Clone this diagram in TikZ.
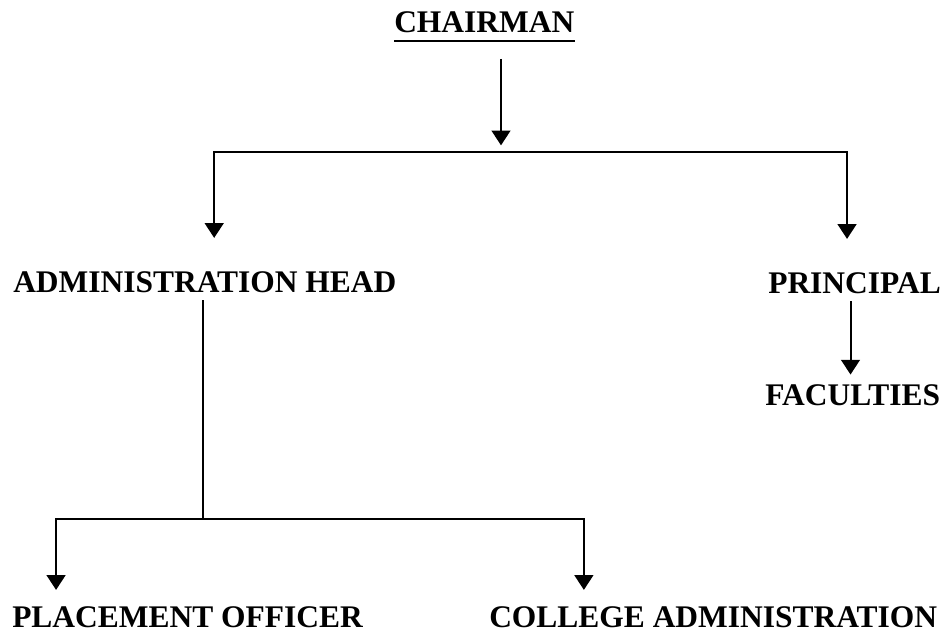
\documentclass[tikz,border=0pt]{standalone}
\usepackage{fontspec}
\setmainfont{Liberation Serif}
\usetikzlibrary{arrows.meta, positioning, calc}

\begin{document}
\begin{tikzpicture}[
    x=0.75pt, y=-0.75pt,
    post/.style={inner xsep=0pt, inner ysep=5pt, font=\bfseries\fontsize{23.6}{28}\selectfont, anchor=base west},
    line/.style={line width=1.5pt},
    arrow/.style={line width=1.5pt, -{Triangle[width=14pt, length=11pt]}}
]
    \useasboundingbox (0,0) rectangle (949,634);

    % Top level
    \node[post] (chairman) at (394,33) {CHAIRMAN};
    \draw[line width=2.2pt] ([yshift=-6pt]chairman.base west) -- ([yshift=-6pt]chairman.base east);
    \coordinate (topjoin) at (501,152);

    % Second level
    \node[post] (adminhead) at (13,293) {ADMINISTRATION HEAD};
    \node[post] (principal) at (768,294) {PRINCIPAL};
    \node[post] (faculties) at (765,405) {FACULTIES};

    \draw[arrow, shorten <=14pt, shorten >=5pt] (chairman.south -| topjoin) -- (topjoin);
    \draw[arrow, shorten >=20.5pt] (topjoin) -| ([xshift=7pt]adminhead.north);
    \draw[arrow, shorten >=20.5pt] (topjoin) -| ([xshift=-5.6pt]principal.north);
    \draw[arrow, shorten >=2pt] ([xshift=-3pt]principal.south) -- ([xshift=-3pt]principal.south |- faculties.north);

    % Third level
    \node[post, inner ysep=2pt] (placement) at (12,627) {PLACEMENT OFFICER};
    \node[post, inner ysep=2pt] (college) at (489,627) {COLLEGE ADMINISTRATION};
    \coordinate (lowjoin) at (203,519);

    \draw[line] (adminhead.south -| lowjoin) -- (lowjoin);
    \draw[arrow, shorten >=10pt] (lowjoin) -| ([xshift=-98.6pt]placement.north);
    \draw[arrow, shorten >=10pt] (lowjoin) -| ([xshift=-97pt]college.north);

\end{tikzpicture}
\end{document}
